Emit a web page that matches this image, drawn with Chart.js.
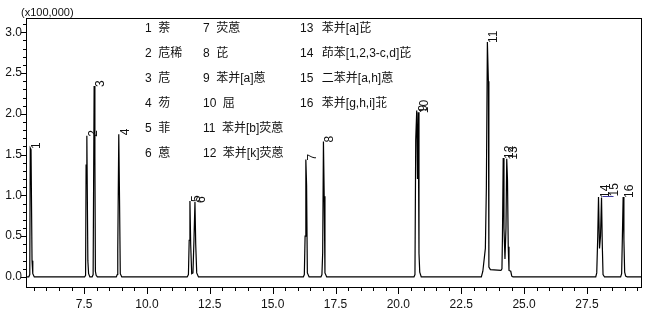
<!DOCTYPE html>
<html>
<head>
<meta charset="utf-8">
<script src="https://cdn.jsdelivr.net/npm/chart.js@4.4.1/dist/chart.umd.min.js"></script>
<style>
html,body{margin:0;padding:0;background:#fff;}
canvas{display:block;}
</style>
</head>
<body>
<canvas id="c" width="651" height="314"></canvas>
<script>
// ---- data ----
const X_MIN = 5.19, X_MAX = 29.65;          // retention time range (min)
const Y_MIN = -0.123, Y_MAX = 3.175;        // signal range (x100,000)
const xTickValues = [7.5, 10.0, 12.5, 15.0, 17.5, 20.0, 22.5, 25.0, 27.5];
const yTickValues = [0.0, 0.5, 1.0, 1.5, 2.0, 2.5, 3.0];
const yUnitLabel = '(x100,000)';

// chromatogram trace points [time, signal]
const trace = [
  [5.19,0],
  [5.30,0],[5.34,0.03],[5.36,1.58],[5.39,1.56],[5.43,0.20],[5.46,0.04],[5.52,0],
  [7.52,0],[7.56,0.02],[7.58,1.37],[7.61,1.73],[7.65,0.20],[7.68,0.04],[7.73,0],
  [7.82,0],[7.86,0.03],[7.90,2.34],[7.93,1.48],[7.95,0.07],[7.98,0.02],[8.03,0],
  [8.78,0],[8.82,0.03],[8.84,0.32],[8.88,1.75],[8.91,0.95],[8.94,0.04],[9.00,0],
  [11.60,0],[11.65,0.03],[11.68,0.45],[11.71,0.93],[11.74,0.40],[11.78,0.04],[11.83,0.05],[11.87,0.45],[11.91,0.92],[11.94,0.40],[11.98,0.05],[12.05,0],
  [16.22,0],[16.26,0.03],[16.29,0.50],[16.32,1.44],[16.35,1.12],[16.38,0.05],[16.45,0],
  [16.92,0],[16.96,0.03],[16.99,0.30],[17.02,1.66],[17.05,0.99],[17.08,0.05],[17.15,0],
  [20.62,0],[20.66,0.03],[20.69,1.68],[20.73,2.04],[20.76,1.20],[20.79,2.02],[20.82,0.29],[20.85,0.06],[20.91,0],
  [23.30,0],[23.36,0.07],[23.46,0.35],[23.50,1.10],[23.54,2.88],[23.58,2.40],[23.60,0.12],[23.66,0.09],[24.08,0.08],[24.12,0.10],
  [24.14,0.50],[24.17,1.46],[24.20,0.60],[24.24,0.22],[24.28,0.60],[24.31,1.45],[24.34,1.19],[24.37,0.37],[24.40,0.08],[24.47,0.07],[24.51,0.01],[24.56,0],
  [27.85,0],[27.89,0.05],[27.93,0.50],[27.96,0.98],[28.00,0.35],[28.04,0.50],[28.08,0.975],[28.11,0.40],[28.14,0.03],[28.20,0],
  [28.84,0],[28.88,0.04],[28.91,0.50],[28.94,0.98],[28.97,0.46],[29.00,0.06],[29.04,0.01],[29.10,0],
  [29.65,0]
];

// peak apexes and their labels
const peakLabels  = ['1','2','3','4','5','6','7','8','9','10','11','12','13','14','15','16'];
const peakTimes   = [5.36,7.61,7.90,8.88,11.71,11.91,16.32,17.02,20.73,20.79,23.54,24.17,24.31,27.96,28.08,28.94];
const peakHeights = [1.58,1.73,2.34,1.75,0.93,0.92,1.44,1.66,2.04,2.02,2.88,1.46,1.45,0.98,0.975,0.98];

// compound key
const compoundNumbers = ['1','2','3','4','5','6','7','8','9','10','11','12','13','14','15','16'];
const compoundNames = ['萘','苊稀','苊','芴','菲','蒽','荧蒽','芘','苯并[a]蒽','屈','苯并[b]荧蒽','苯并[k]荧蒽','苯并[a]芘','茚苯[1,2,3-c,d]芘','二苯并[a,h]蒽','苯并[g,h,i]苝'];

// ---- drawing ----
const FONT = '"Liberation Sans", Arial, "Noto Sans CJK SC", sans-serif';

const decorPlugin = {
  id: 'decor',
  afterDraw(chart) {
    const ctx = chart.ctx, a = chart.chartArea;
    const xs = chart.scales.x, ys = chart.scales.y;
    ctx.save();
    // frame
    ctx.strokeStyle = '#000';
    ctx.lineWidth = 1;
    ctx.strokeRect(Math.round(a.left) + 0.5, Math.round(a.top) + 0.5,
                   Math.round(a.right - a.left), Math.round(a.bottom - a.top));
    // y ticks (major every 0.5, minor every 0.1)
    ctx.beginPath();
    for (let i = 0; i <= 31; i++) {
      const v = i / 10;
      if (v > Y_MAX) break;
      const py = Math.round(ys.getPixelForValue(v)) + 0.5;
      const len = (i % 5 === 0) ? 5 : 3;
      ctx.moveTo(a.left, py); ctx.lineTo(a.left - len, py);
    }
    // x ticks (major every 2.5, minor every 0.5)
    for (let i = Math.ceil(X_MIN * 2); i <= Math.floor(X_MAX * 2); i++) {
      const v = i / 2;
      const px = Math.round(xs.getPixelForValue(v)) + 0.5;
      const len = (i % 5 === 0) ? 7 : 4;
      ctx.moveTo(px, a.bottom); ctx.lineTo(px, a.bottom + len);
    }
    ctx.stroke();

    // unit label
    ctx.fillStyle = '#111';
    ctx.font = '11px ' + FONT;
    ctx.textAlign = 'left';
    ctx.textBaseline = 'alphabetic';
    ctx.fillText(yUnitLabel, 21, 16);

    // peak labels (rotated)
    ctx.font = '12px ' + FONT;
    for (let i = 0; i < peakLabels.length; i++) {
      const px = xs.getPixelForValue(peakTimes[i]);
      const py = ys.getPixelForValue(peakHeights[i]);
      let bx = px + 10, by = py + 1;
      if (peakLabels[i] === '15') {
        bx = px + 16; by = py - 1;
        ctx.save();
        ctx.strokeStyle = '#3a36a0';
        ctx.beginPath();
        ctx.moveTo(px + 1, Math.round(py - 1) + 0.5);
        ctx.lineTo(px + 12, Math.round(py - 1) + 0.5);
        ctx.stroke();
        ctx.restore();
      }
      ctx.save();
      ctx.translate(bx, by);
      ctx.rotate(-Math.PI / 2);
      ctx.textAlign = 'left';
      ctx.textBaseline = 'alphabetic';
      ctx.fillText(peakLabels[i], 0, 0);
      ctx.restore();
    }

    // compound key block
    ctx.font = '12px ' + FONT;
    ctx.textBaseline = 'middle';
    const colX = [145, 203, 300];
    for (let i = 0; i < compoundNumbers.length; i++) {
      const col = Math.floor(i / 6), row = i % 6;
      const y = 29 + row * 24.9;
      const x = colX[col];
      ctx.fillText(compoundNumbers[i], x, y);
      const w = ctx.measureText(compoundNumbers[i]).width;
      ctx.fillText(compoundNames[i], x + w + (col === 2 ? 8.5 : 6.5), y);
    }
    ctx.restore();
  }
};

new Chart(document.getElementById('c'), {
  type: 'line',
  data: {
    datasets: [{
      data: trace.map(p => ({x: p[0], y: p[1]})),
      borderColor: '#000',
      borderWidth: 1.2,
      pointRadius: 0,
      tension: 0,
      fill: false
    }]
  },
  options: {
    responsive: false,
    devicePixelRatio: 1,
    animation: false,
    layout: {padding: {top: 18, right: 10, left: 0, bottom: 0}},
    plugins: {legend: {display: false}, tooltip: {enabled: false}},
    scales: {
      x: {
        type: 'linear', min: X_MIN, max: X_MAX,
        grid: {display: false, drawTicks: false, tickLength: 0}, border: {display: false},
        afterBuildTicks: s => { s.ticks = xTickValues.map(v => ({value: v})); },
        afterFit: s => { s.height = 27; },
        ticks: {
          autoSkip: false, maxRotation: 0, padding: 10,
          color: '#111', font: {family: FONT, size: 12},
          callback: v => Number(v).toFixed(1)
        }
      },
      y: {
        type: 'linear', min: Y_MIN, max: Y_MAX,
        grid: {display: false, drawTicks: false, tickLength: 0}, border: {display: false},
        afterBuildTicks: s => { s.ticks = yTickValues.map(v => ({value: v})); },
        afterFit: s => { s.width = 26; },
        ticks: {
          padding: 4, color: '#111', font: {family: FONT, size: 12},
          callback: v => Number(v).toFixed(1)
        }
      }
    }
  },
  plugins: [decorPlugin]
});
</script>
</body>
</html>
